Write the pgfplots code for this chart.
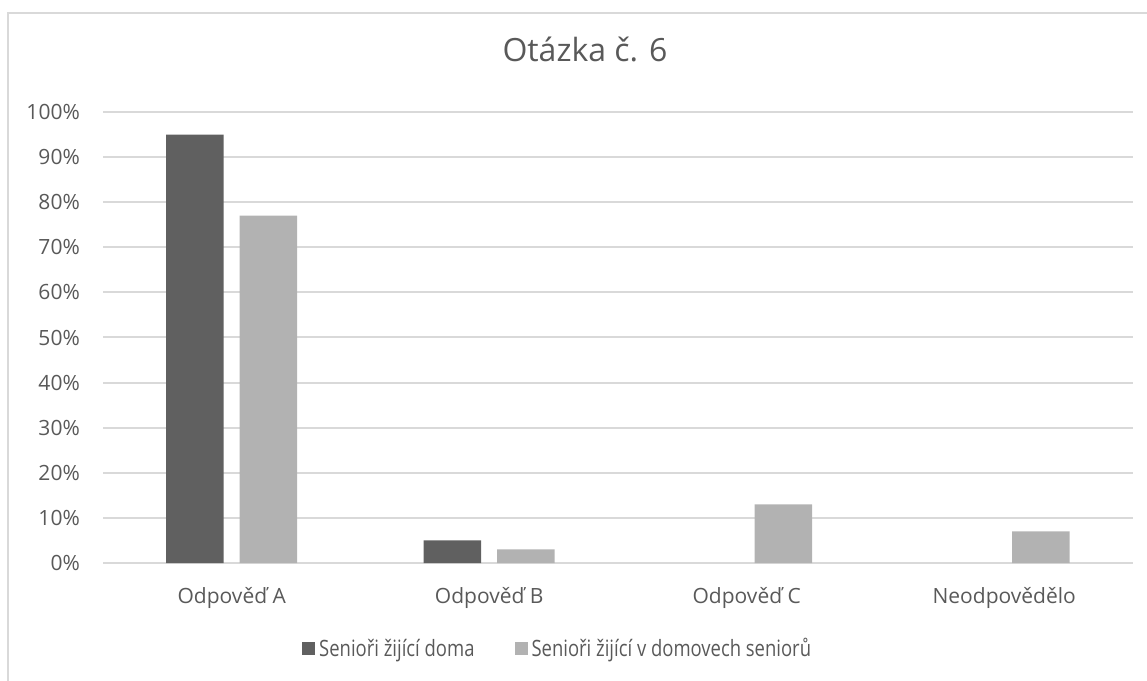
\documentclass[border=0pt]{standalone}
\usepackage{fontspec}
\setmainfont{Open Sans}
\newfontfamily\legendfont[FakeStretch=0.82]{Open Sans}
\usepackage{pgfplots}
\pgfplotsset{compat=1.18}
\definecolor{darkbar}{HTML}{606060}
\definecolor{lightbar}{HTML}{B2B2B2}
\definecolor{txt}{HTML}{595959}
\definecolor{gridc}{HTML}{D9D9D9}
\begin{document}
\begin{tikzpicture}[x=1pt,y=1pt]
\useasboundingbox (0,0) rectangle (1147,680);
\draw[gridc, line width=2pt] (8,-10) -- (8,667) -- (1160,667);
\begin{axis}[
  at={(103pt,117pt)}, anchor=south west,
  scale only axis, width=1030pt, height=451pt,
  xmin=0, xmax=4, ymin=0, ymax=100,
  ybar=16pt, bar width=57.5pt,
  axis line style={draw=none},
  major tick length=0pt,
  ymajorgrids, grid style={gridc, line width=2pt},
  ytick={0,10,...,100},
  yticklabel={\pgfmathprintnumber{\tick}\%},
  /pgf/number format/assume math mode=true,
  yticklabel style={font=\fontsize{21pt}{25pt}\selectfont, text=txt, anchor=east, inner sep=0pt, xshift=-23pt},
  xtick={0.5,1.5,2.5,3.5},
  xticklabels={Odpověď A, Odpověď B, Odpověď C, Neodpovědělo},
  xticklabel style={font=\fontsize{21pt}{25pt}\selectfont, text=txt, anchor=base, inner sep=0pt, yshift=-40pt},
  title={Otázka č. 6},
  title style={font=\fontsize{32pt}{38pt}\selectfont, text=txt, at={(rel axis cs:0.468,1.0976)}, anchor=base, inner sep=0pt},
  legend columns=2,
  legend image code/.code={\fill[#1] (0pt,-6.5pt) rectangle (13pt,6.5pt); \path (17pt,0pt);},
  legend style={draw=none, fill=none, at={(rel axis cs:0.1932,-0.1896)}, anchor=west, inner sep=0pt,
    font=\legendfont\fontsize{22.5pt}{26pt}\selectfont, text=txt,
    nodes={inner sep=0pt}, column sep=0pt},
  legend cell align=left,
  /tikz/every even column/.append style={column sep=40pt},
]
\addplot[fill=darkbar, draw=none] coordinates {(0.5,95) (1.5,5)};
\addplot[fill=lightbar, draw=none] coordinates {(0.5,77) (1.5,3) (2.5,13) (3.5,7)};
\legend{Senioři žijící doma, Senioři žijící v domovech seniorů}
\end{axis}
\end{tikzpicture}
\end{document}
